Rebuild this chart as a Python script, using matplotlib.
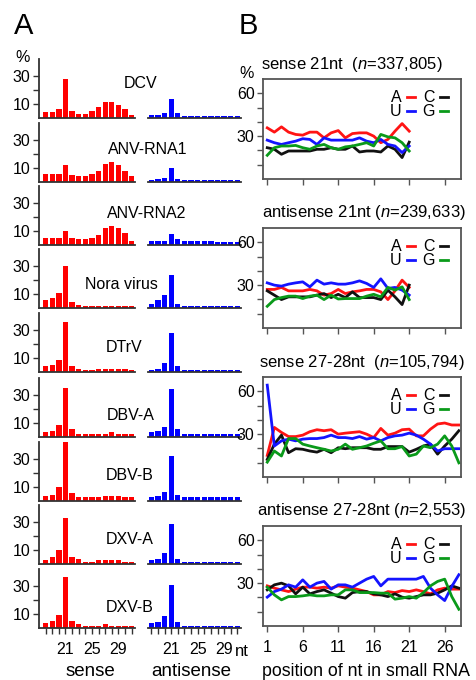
import numpy as np
import matplotlib
matplotlib.use('Agg')
import matplotlib.pyplot as plt

plt.rcParams['font.family'] = ['Liberation Sans', 'DejaVu Sans']
plt.rcParams['mathtext.fontset'] = 'custom'
plt.rcParams['mathtext.rm'] = 'Liberation Sans'
plt.rcParams['mathtext.it'] = 'Liberation Sans:italic'

W, H = 477, 680

# ---- panel A data: % of reads by length (18..31 nt)
lengths = list(range(18, 32))
viruses = ['DCV', 'ANV-RNA1', 'ANV-RNA2', 'Nora virus', 'DTrV',
           'DBV-A', 'DBV-B', 'DXV-A', 'DXV-B']

dcv_sense = [4.3, 4.3, 6.4, 28, 5.2, 3.1, 3.1, 5.2, 8.1, 11.2, 11.2, 9.3, 6.4, 2.1]
dcv_anti = [2.1, 2.1, 3.3, 13.3, 3.3, 1.4, 1.4, 1.4, 1.4, 1.4, 1.4, 1.4, 1.4, 1.4]
anv1_sense = [6.0, 5.5, 6.0, 12.1, 5.0, 4.0, 4.0, 6.0, 7.9, 12.9, 14.0, 12.1, 8.1, 4.0]
anv1_anti = [1.2, 1.9, 2.9, 10.0, 2.4, 1.2, 1.2, 1.2, 1.2, 1.2, 1.2, 1.2, 1.2, 1.2]
anv2_sense = [5.2, 5.2, 5.2, 10.2, 5.2, 4.2, 4.2, 5.2, 7.1, 12.2, 13.6, 12.2, 8.3, 3.2]
anv2_anti = [2.8, 2.8, 3.2, 8.0, 4.2, 3.2, 3.2, 3.2, 3.2, 3.2, 2.3, 2.3, 2.3, 2.3]
nora_sense = [5.9, 6.8, 10.4, 30.0, 4.2, 2.3, 1.3, 1.3, 1.3, 1.3, 1.3, 1.3, 1.3, 1.3]
nora_anti = [3.2, 5.9, 9.3, 23.7, 3.2, 1.3, 1.3, 1.3, 1.3, 1.3, 1.3, 1.3, 1.3, 1.3]
dtrv_sense = [4.1, 5.0, 8.7, 35.4, 4.1, 2.4, 1.4, 1.4, 2.4, 2.4, 2.4, 2.4, 2.4, 1.4]
dtrv_anti = [1.4, 2.4, 6.5, 28.2, 4.1, 1.4, 1.4, 1.4, 1.4, 1.4, 1.4, 1.4, 1.4, 1.4]
dbva_sense = [3.5, 4.5, 8.5, 35.3, 5.4, 2.4, 2.4, 2.4, 2.4, 2.4, 3.5, 2.4, 2.4, 2.4]
dbva_anti = [3.5, 4.5, 7.3, 34.3, 5.4, 2.4, 2.4, 2.4, 2.4, 2.4, 2.4, 2.4, 2.4, 2.4]
dbvb_sense = [3.6, 4.5, 9.8, 45.0, 5.5, 2.6, 2.6, 2.6, 2.6, 3.6, 3.6, 3.6, 2.6, 2.6]
dbvb_anti = [2.6, 3.6, 6.7, 31.9, 4.5, 2.6, 2.6, 2.6, 2.6, 2.6, 2.6, 2.6, 2.6, 2.6]
dxva_sense = [2.6, 4.8, 9.8, 33.0, 4.8, 3.8, 1.7, 1.7, 2.6, 2.6, 2.6, 2.6, 1.7, 1.7]
dxva_anti = [2.6, 3.8, 8.1, 28.3, 3.8, 1.7, 1.7, 1.7, 1.7, 1.7, 1.7, 1.7, 1.7, 1.7]
dxvb_sense = [3.6, 5.2, 9.3, 36.7, 5.2, 2.6, 1.7, 1.7, 1.7, 2.6, 1.7, 1.7, 1.7, 1.7]
dxvb_anti = [3.6, 4.5, 8.6, 30.5, 4.5, 1.7, 1.7, 1.7, 1.7, 1.7, 1.7, 1.7, 1.7, 1.7]

sense_rows = [dcv_sense, anv1_sense, anv2_sense, nora_sense, dtrv_sense,
              dbva_sense, dbvb_sense, dxva_sense, dxvb_sense]
anti_rows = [dcv_anti, anv1_anti, anv2_anti, nora_anti, dtrv_anti,
             dbva_anti, dbvb_anti, dxva_anti, dxvb_anti]

# ---- panel B data: nucleotide frequency (%) by position
titles = ['sense 21nt  ($n$=337,805)', 'antisense 21nt ($n$=239,633)',
          'sense 27-28nt  ($n$=105,794)', 'antisense 27-28nt ($n$=2,553)']

s21_A = [35.8, 32.8, 36.5, 32.8, 31.2, 30.7, 32.8, 32.8, 28.8, 32.3, 33.9, 28.8, 31.8, 32.3, 32.3, 30.0, 25.4, 27.7, 33.5, 38.8, 33.5]
s21_C = [21.9, 20.8, 17.3, 19.6, 19.6, 19.6, 19.6, 20.8, 20.8, 21.9, 20.8, 20.8, 23.1, 18.9, 19.6, 19.6, 18.9, 23.1, 20.8, 15.0, 25.8]
s21_U = [27.2, 25.4, 24.2, 25.4, 26.5, 28.2, 27.7, 24.2, 28.8, 27.2, 27.2, 27.2, 27.2, 28.8, 26.5, 25.4, 27.7, 24.2, 23.1, 18.5, 23.1]
s21_G = [16.6, 21.9, 23.1, 23.1, 23.5, 21.9, 20.8, 23.1, 24.2, 21.9, 20.8, 22.5, 23.1, 24.2, 25.4, 23.1, 31.2, 29.5, 28.8, 25.4, 19.6]

a21_A = [27.0, 27.0, 28.4, 26.0, 26.0, 26.0, 27.0, 26.0, 23.0, 24.1, 27.0, 24.1, 25.3, 26.0, 27.0, 27.0, 25.3, 19.9, 26.0, 33.5, 28.4]
a21_C = [26.0, 23.0, 19.9, 21.8, 21.8, 21.8, 21.8, 23.0, 24.1, 21.3, 23.6, 21.3, 25.3, 21.3, 21.3, 21.3, 19.9, 26.5, 21.8, 16.4, 30.0]
a21_U = [31.6, 30.0, 29.3, 30.7, 31.6, 32.3, 28.8, 33.5, 30.7, 31.6, 30.7, 30.7, 31.6, 33.0, 31.2, 28.4, 34.4, 27.7, 28.4, 26.5, 23.0]
a21_G = [15.2, 19.9, 21.3, 22.3, 22.3, 20.6, 22.3, 23.0, 19.9, 23.0, 20.3, 20.6, 20.6, 20.6, 22.3, 23.6, 21.8, 28.4, 26.5, 28.8, 19.9]

s27_A = [15.1, 34.7, 31.2, 28.3, 28.3, 29.3, 31.7, 33.1, 32.4, 33.1, 30.0, 30.7, 31.2, 31.7, 30.0, 27.6, 34.0, 29.3, 30.7, 33.1, 33.5, 28.8, 28.8, 33.5, 37.1, 37.8, 36.4, 36.4]
s27_C = [12.3, 23.0, 29.3, 17.0, 19.8, 19.4, 18.2, 17.4, 19.4, 17.0, 20.5, 19.8, 20.5, 20.5, 20.5, 19.4, 19.4, 21.3, 21.3, 21.3, 17.4, 19.4, 21.7, 23.0, 16.0, 21.7, 26.5, 32.4]
s27_U = [64.3, 21.7, 25.3, 26.5, 25.3, 26.5, 26.9, 26.9, 27.6, 29.3, 27.6, 27.6, 26.9, 28.3, 26.5, 27.6, 25.3, 27.6, 28.8, 29.3, 30.7, 29.3, 26.5, 23.0, 18.2, 19.8, 19.8, 19.8]
s27_G = [10.4, 18.2, 14.7, 26.9, 26.9, 23.0, 21.7, 20.5, 19.4, 18.2, 19.4, 23.0, 19.4, 20.5, 21.7, 23.6, 25.3, 19.8, 19.8, 21.3, 14.7, 16.0, 21.7, 20.5, 23.0, 28.8, 21.7, 9.9]

a27_A = [28.1, 26.5, 25.3, 24.1, 25.8, 27.2, 27.2, 26.5, 27.2, 26.5, 28.1, 27.2, 26.5, 25.3, 24.1, 21.8, 21.8, 24.1, 23.4, 24.8, 24.1, 25.3, 24.1, 22.5, 25.3, 26.5, 25.8, 25.8]
a27_C = [25.3, 28.8, 30.0, 28.1, 22.5, 27.2, 22.5, 24.1, 25.3, 23.0, 20.6, 19.5, 23.4, 24.1, 24.1, 22.5, 21.8, 20.6, 22.5, 20.2, 19.5, 20.6, 21.8, 21.8, 23.0, 25.3, 28.1, 26.5]
a27_U = [20.2, 24.1, 25.8, 28.8, 27.2, 32.3, 27.2, 30.0, 31.2, 25.8, 28.8, 28.8, 27.2, 30.0, 32.8, 34.7, 28.1, 32.8, 32.8, 32.8, 32.8, 32.8, 34.7, 26.5, 21.8, 17.8, 27.7, 35.9]
a27_G = [27.2, 21.8, 18.3, 20.6, 20.6, 21.1, 21.8, 21.1, 21.1, 21.8, 21.8, 25.3, 25.3, 23.4, 23.4, 23.4, 23.0, 23.0, 18.8, 19.5, 20.6, 19.5, 23.4, 28.1, 31.2, 32.8, 20.6, 11.7]

panels_B = [(s21_A, s21_C, s21_U, s21_G), (a21_A, a21_C, a21_U, a21_G),
            (s27_A, s27_C, s27_U, s27_G), (a27_A, a27_C, a27_U, a27_G)]
nt_colors = {'A': '#ff1414', 'C': '#111111', 'U': '#1414ff', 'G': '#0a9a1a'}


def px_axes(left, top, width, height):
    return fig.add_axes([left / W, 1 - (top + height) / H, width / W, height / H])


def px_text(x, y, s, **kw):
    fig.text(x / W, 1 - y / H, s, ha='center', va='center', **kw)


fig = plt.figure(figsize=(W / 100, H / 100), dpi=100)

# ---------------- panel A ----------------
baselines = [118, 182, 245, 308, 372, 437, 501, 564, 628]
label_pos = [(141, 83), (148, 150), (147, 214), (121, 284), (124, 347),
             (131, 415), (130, 476), (130, 540), (130, 607)]
row_h = 58.8
spine_col = '#333333'

for i, name in enumerate(viruses):
    top = baselines[i] - row_h
    last = i == len(viruses) - 1
    ax_s = px_axes(39, top, 96, row_h)
    ax_a = px_axes(148, top, 93, row_h)
    ax_s.bar(lengths, sense_rows[i], width=0.8, color='#ff0000')
    ax_a.bar(lengths, anti_rows[i], width=0.8, color='#0000ff')
    ax_s.set_xlim(17, 31.5)
    ax_a.set_xlim(17.5, 31.55)
    for ax in (ax_s, ax_a):
        ax.set_ylim(0, 42)
        ax.spines['top'].set_visible(False)
        ax.spines['right'].set_visible(False)
        ax.spines['bottom'].set_color(spine_col)
        ax.spines['bottom'].set_linewidth(1.3)
        if last:
            ax.set_xticks(lengths)
            ax.set_xticklabels([str(n) if n in (21, 25, 29) else '' for n in lengths])
            ax.tick_params(axis='x', length=4, width=1, color=spine_col,
                           labelsize=11.5, pad=6)
        else:
            ax.tick_params(axis='x', bottom=False, labelbottom=False)
    ax_s.spines['left'].set_color(spine_col)
    ax_s.spines['left'].set_linewidth(1.3)
    ax_s.set_yticks([10, 20, 30])
    ax_s.set_yticklabels(['10', '', '30'])
    ax_s.tick_params(axis='y', length=4, width=1, color=spine_col, labelsize=11.5, pad=2)
    ax_a.spines['left'].set_visible(False)
    ax_a.tick_params(axis='y', left=False, labelleft=False)
    px_text(label_pos[i][0], label_pos[i][1], name, fontsize=11.5)

px_text(23, 57, '%', fontsize=11.5)
px_text(242, 651, 'nt', fontsize=12)
px_text(90, 672, 'sense', fontsize=13.5)
px_text(191, 672, 'antisense', fontsize=13.5)
px_text(24, 26, 'A', fontsize=21)
px_text(248, 26, 'B', fontsize=21)

# ---------------- panel B ----------------
tops_B = [79, 228, 377, 526]
title_x = [352, 364, 362, 362]
for j, series in enumerate(panels_B):
    ax = px_axes(263, tops_B[j], 198, 100)
    handles = {}
    for nt, vals in zip(['A', 'C', 'U', 'G'], series):
        pos = np.arange(1, len(vals) + 1)
        handles[nt], = ax.plot(pos, vals, color=nt_colors[nt], lw=2)
    ax.set_xlim(0.4, 28.3)
    ax.set_ylim(0, 70)
    ax.set_xticks([1, 6, 11, 16, 21, 26])
    ax.set_yticks([10, 20, 30, 40, 50, 60])
    ax.set_yticklabels(['', '', '30', '', '', '60'])
    for sp in ax.spines.values():
        sp.set_color('#555555')
        sp.set_linewidth(1.3)
    ax.tick_params(length=4, width=1, color='#555555', labelsize=11.5, pad=2)
    ax.tick_params(axis='x', pad=6)
    if j < 3:
        ax.tick_params(axis='x', labelbottom=False)
    px_text(title_x[j], tops_B[j] - 15, titles[j], fontsize=12)
    ax.legend([handles['A'], handles['U'], handles['C'], handles['G']],
              ['A', 'U', 'C', 'G'], ncol=2, markerfirst=False, frameon=False,
              loc='upper right', bbox_to_anchor=(0.99, 1.0), fontsize=11.5,
              handlelength=0.5, handletextpad=0.3, columnspacing=0.5,
              labelspacing=-0.05, borderaxespad=0.3)

px_text(247, 74, '%', fontsize=11.5)
px_text(366, 672, 'position of nt in small RNA', fontsize=12.8)

plt.savefig('out.png', dpi=100)
